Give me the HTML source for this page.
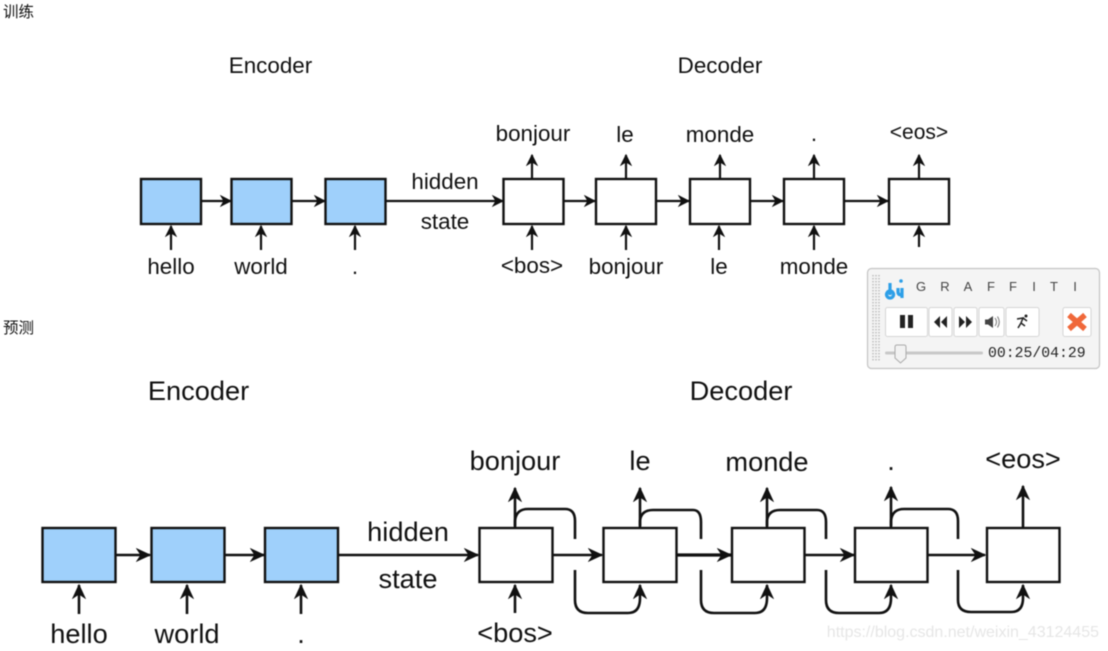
<!DOCTYPE html>
<html>
<head>
<meta charset="utf-8">
<style>
html,body{margin:0;padding:0;background:#fff}
body{width:1108px;height:651px;overflow:hidden;position:relative}
svg{position:absolute;left:0;top:0;filter:blur(0.45px)}
text{font-family:"Liberation Sans","Noto Sans CJK SC",sans-serif;fill:#111}
.t{font-size:22.4px;text-anchor:middle}
.b{font-size:27.2px;text-anchor:middle}
.box{stroke:#111;stroke-width:2.4;fill:#fff}
.blue{fill:#9fd0fb}
.l{stroke:#111;stroke-width:2.2;fill:none}
</style>
</head>
<body>
<svg width="1108" height="651" viewBox="0 0 1108 651" xmlns="http://www.w3.org/2000/svg">
<defs>
<marker id="a" viewBox="0 0 12 12" refX="11" refY="6" markerWidth="12" markerHeight="12" markerUnits="userSpaceOnUse" orient="auto">
<path d="M1 1 L11 6 L1 11 L4 6 Z" fill="#111" stroke="#111" stroke-width="1"/>
</marker>
<marker id="c" viewBox="0 0 15 15" refX="14" refY="7.5" markerWidth="15" markerHeight="15" markerUnits="userSpaceOnUse" orient="auto">
<path d="M1 1.500 L14 7.500 L1 13.500 L5 7.500 Z" fill="#111" stroke="#111" stroke-width="1"/>
</marker>
</defs>

<text x="3" y="17" style="font-size:15.500px">训练</text>
<text x="3" y="333" style="font-size:15.500px">预测</text>

<!-- TOP -->
<text class="t" x="270.500" y="73">Encoder</text>
<text class="t" x="720" y="73">Decoder</text>
<text class="t" x="533" y="141">bonjour</text>
<text class="t" x="625" y="142">le</text>
<text class="t" x="720" y="142">monde</text>
<text class="t" x="814" y="141">.</text>
<text x="919" y="139" style="font-size:21px;text-anchor:middle">&lt;eos&gt;</text>
<text class="t" x="445" y="189">hidden</text>
<text class="t" x="445" y="229">state</text>
<text class="t" x="171" y="274">hello</text>
<text class="t" x="261" y="274">world</text>
<text class="t" x="355" y="274">.</text>
<text class="t" x="532" y="273">&lt;bos&gt;</text>
<text class="t" x="626" y="274">bonjour</text>
<text class="t" x="719" y="274">le</text>
<text class="t" x="814" y="274">monde</text>

<rect class="box blue" x="141" y="179" width="60" height="45"/>
<rect class="box blue" x="231.500" y="179" width="60" height="45"/>
<rect class="box blue" x="325.500" y="179" width="60" height="45"/>
<rect class="box" x="503.500" y="179" width="60" height="45"/>
<rect class="box" x="596" y="179" width="60" height="45"/>
<rect class="box" x="690" y="179" width="60" height="45"/>
<rect class="box" x="784" y="179" width="60" height="45"/>
<rect class="box" x="889" y="179" width="60" height="45"/>
<g class="l">
<line x1="201" y1="201" x2="231" y2="201" marker-end="url(#a)"/>
<line x1="292" y1="201" x2="325" y2="201" marker-end="url(#a)"/>
<line x1="386" y1="201" x2="503" y2="201" marker-end="url(#a)"/>
<line x1="564" y1="201" x2="595" y2="201" marker-end="url(#a)"/>
<line x1="656" y1="201" x2="689" y2="201" marker-end="url(#a)"/>
<line x1="750" y1="201" x2="783" y2="201" marker-end="url(#a)"/>
<line x1="844" y1="201" x2="888" y2="201" marker-end="url(#a)"/>
<line x1="171" y1="250" x2="171" y2="226" marker-end="url(#a)"/>
<line x1="261" y1="250" x2="261" y2="226" marker-end="url(#a)"/>
<line x1="355" y1="250" x2="355" y2="226" marker-end="url(#a)"/>
<line x1="532" y1="250" x2="532" y2="226" marker-end="url(#a)"/>
<line x1="626" y1="250" x2="626" y2="226" marker-end="url(#a)"/>
<line x1="719" y1="250" x2="719" y2="226" marker-end="url(#a)"/>
<line x1="814" y1="250" x2="814" y2="226" marker-end="url(#a)"/>
<line x1="919" y1="247" x2="919" y2="226" marker-end="url(#a)"/>
<line x1="532" y1="178" x2="532" y2="155" marker-end="url(#a)"/>
<line x1="626" y1="178" x2="626" y2="155" marker-end="url(#a)"/>
<line x1="720" y1="178" x2="720" y2="155" marker-end="url(#a)"/>
<line x1="814" y1="178" x2="814" y2="155" marker-end="url(#a)"/>
<line x1="919" y1="178" x2="919" y2="155" marker-end="url(#a)"/>
</g>

<!-- BOTTOM -->
<text class="b" x="198.500" y="400">Encoder</text>
<text class="b" x="741" y="400">Decoder</text>
<text class="b" x="515" y="470">bonjour</text>
<text class="b" x="640" y="470">le</text>
<text class="b" x="767" y="471">monde</text>
<text class="b" x="891" y="470">.</text>
<text class="b" x="1023" y="468">&lt;eos&gt;</text>
<text class="b" x="408" y="541">hidden</text>
<text class="b" x="408" y="588">state</text>
<text class="b" x="79" y="643">hello</text>
<text class="b" x="187" y="643">world</text>
<text class="b" x="301" y="643">.</text>
<text class="b" x="515" y="642">&lt;bos&gt;</text>

<rect class="box blue" x="42.500" y="528" width="73" height="54"/>
<rect class="box blue" x="151.500" y="528" width="73" height="54"/>
<rect class="box blue" x="265" y="528" width="73" height="54"/>
<rect class="box" x="479.500" y="528" width="73" height="54"/>
<rect class="box" x="603.500" y="528" width="73" height="54"/>
<rect class="box" x="732" y="528" width="72.500" height="54"/>
<rect class="box" x="855" y="528" width="72.500" height="54"/>
<rect class="box" x="987" y="528" width="72.500" height="54"/>

<g class="l" style="stroke-width:2.6">
<line x1="116" y1="555" x2="150" y2="555" marker-end="url(#c)"/>
<line x1="225" y1="555" x2="264" y2="555" marker-end="url(#c)"/>
<line x1="339" y1="555" x2="478" y2="555" marker-end="url(#c)"/>
<line x1="553" y1="555" x2="602" y2="555" marker-end="url(#c)"/>
<line x1="677" y1="555" x2="731" y2="555" marker-end="url(#c)" style="stroke-width:3.2"/>
<line x1="805" y1="555" x2="854" y2="555" marker-end="url(#c)"/>
<line x1="928" y1="555" x2="985" y2="555" marker-end="url(#c)"/>
<line x1="79" y1="614" x2="79" y2="585" marker-end="url(#c)"/>
<line x1="187" y1="614" x2="187" y2="585" marker-end="url(#c)"/>
<line x1="301" y1="614" x2="301" y2="585" marker-end="url(#c)"/>
<line x1="515" y1="613" x2="515" y2="585" marker-end="url(#c)"/>
<line x1="515" y1="527" x2="515" y2="488" marker-end="url(#c)"/>
<line x1="640" y1="527" x2="640" y2="488" marker-end="url(#c)"/>
<line x1="767" y1="527" x2="767" y2="488" marker-end="url(#c)"/>
<line x1="891" y1="527" x2="891" y2="487" marker-end="url(#c)"/>
<line x1="1023" y1="527" x2="1023" y2="486" marker-end="url(#c)"/>
<!-- feedback top -->
<path d="M515 526 V521 Q516 509 528 509 H565 Q575 509 575 521 V539"/>
<path d="M640 526 V521 Q641 510 653 510 H693 Q701 510 701 522 V539"/>
<path d="M767 526 V521 Q768 510 780 510 H817 Q826 510 826 522 V539"/>
<path d="M891 526 V521 Q892 509 904 509 H948 Q958 509 958 521 V539"/>
<!-- feedback bottom -->
<path d="M575 570 V600 Q575 613 588 613 H628 Q640 613 640 598 V585" marker-end="url(#c)"/>
<path d="M701 570 V600 Q701 613 714 613 H755 Q767 613 767 598 V585" marker-end="url(#c)"/>
<path d="M826 570 V600 Q826 613 839 613 H879 Q891 613 891 598 V585" marker-end="url(#c)"/>
<path d="M958 570 V600 Q958 612 971 612 H1011 Q1023 612 1023 598 V585" marker-end="url(#c)"/>
</g>

<text x="1099" y="637" style="font-size:16px;text-anchor:end;fill:#e6e6e6">https://blog.csdn.net/weixin_43124455</text>

<!-- Graffiti panel -->
<rect x="867.500" y="268.500" width="232" height="100" rx="4" fill="#f4f4f4" stroke="#c4c4c4" stroke-width="1.200"/>
<path d="M873 275 V361 M876 275 V361 M879 275 V361" stroke="#b5b5b5" stroke-width="1.400" stroke-dasharray="1.400 1.600" fill="none"/>
<path d="M890 283 V295 M890 291 a3.500 3.500 0 1 0 .1 0 M898 288 V292 Q898 295 902 295 M902 288 V298" stroke="#2d9fe8" stroke-width="3.200" fill="none"/>
<circle cx="901" cy="281" r="1.800" fill="#2d9fe8"/>
<g style="font-size:13px;text-anchor:middle">
<text x="921" y="291" style="fill:#444">G</text>
<text x="945" y="291" style="fill:#444">R</text>
<text x="968" y="291" style="fill:#444">A</text>
<text x="991" y="291" style="fill:#444">F</text>
<text x="1013" y="291" style="fill:#444">F</text>
<text x="1034" y="291" style="fill:#444">I</text>
<text x="1054" y="291" style="fill:#444">T</text>
<text x="1075" y="291" style="fill:#444">I</text>
</g>
<g fill="#fff" stroke="#d6d6d6" stroke-width="1">
<rect x="885.500" y="307.500" width="42" height="29" rx="2"/>
<rect x="929" y="307.500" width="23" height="29" rx="2"/>
<rect x="954" y="307.500" width="23" height="29" rx="2"/>
<rect x="979" y="307.500" width="25" height="29" rx="2"/>
<rect x="1006" y="307.500" width="33" height="29" rx="2"/>
<rect x="1063" y="307.500" width="28" height="29" rx="2"/>
</g>
<rect x="900" y="315" width="5" height="13" fill="#222"/>
<rect x="908" y="315" width="5" height="13" fill="#222"/>
<path d="M940 316 L934 322 L940 328 Z M947 316 L941 322 L947 328 Z" fill="#222"/>
<path d="M959 316 L965 322 L959 328 Z M966 316 L972 322 L966 328 Z" fill="#222"/>
<path d="M985 319.500 H988 L993 316 V328 L988 324.500 H985 Z" fill="#444"/>
<path d="M995 318 Q998 322 995 326 M997.500 316.500 Q1001 322 997.500 327.500" stroke="#777" stroke-width="1" fill="none"/>
<path d="M1017 319 L1023 318 L1021 323 L1025 326 M1021 323 L1018 328 M1023 318 L1027 321" stroke="#222" stroke-width="1.500" fill="none"/>
<circle cx="1026" cy="316" r="1.500" fill="#222"/>
<path d="M1069 315 L1085 329 M1085 315 L1069 329" stroke="#f0683a" stroke-width="5.500"/>
<rect x="885" y="351.500" width="98" height="3" rx="1.500" fill="#c8c8c8"/>
<path d="M895 347 Q895 345 897 345 H904 Q906 345 906 347 V358 L900.500 363 L895 358 Z" fill="#f2f2f2" stroke="#aaa"/>
<text x="988" y="357" style="font-family:'Liberation Mono',monospace;font-size:14.800px;fill:#222">00:25/04:29</text>
</svg>
</body>
</html>
